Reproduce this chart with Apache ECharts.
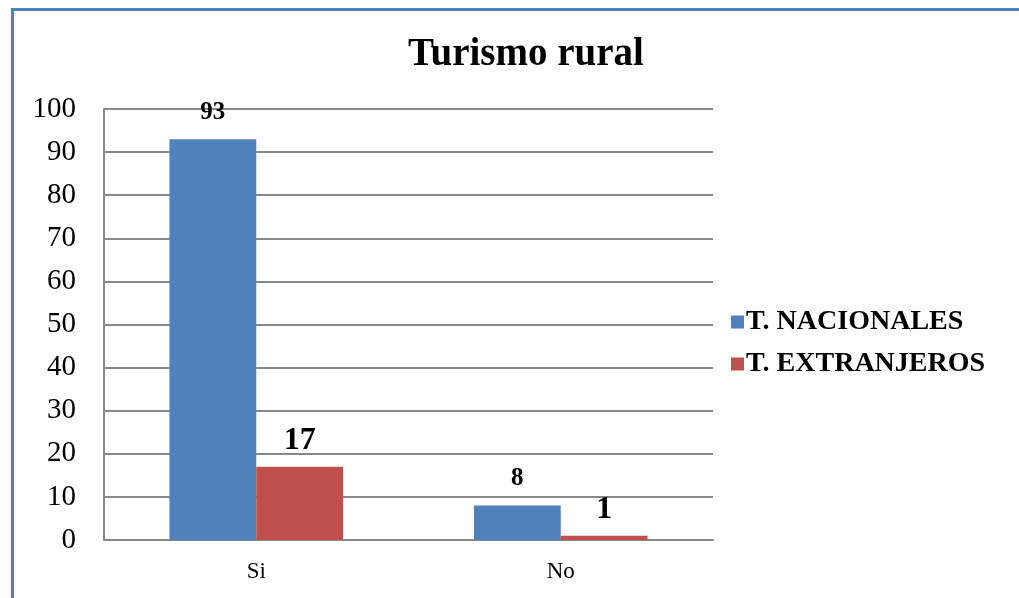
<!DOCTYPE html>
<html>
<head>
<meta charset="utf-8">
<script src="https://cdn.jsdelivr.net/npm/echarts@6/dist/echarts.min.js"></script>
<style>
  html, body { margin: 0; padding: 0; background: #fff; }
  #frame { position: absolute; left: 11px; top: 8px; width: 1008px; height: 590px;
    border-left: 3px solid #4F81BD; border-top: 3px solid #4F81BD; box-sizing: border-box; }
  #chart { position: absolute; left: 0; top: 0; width: 1019px; height: 598px; }
</style>
</head>
<body>
<div id="frame"></div>
<div id="chart"></div>
<script>
  const categories = ['Si', 'No']
  const nacionales = [93, 8]
  const extranjeros = [17, 1]
  const seriesNames = ['T. NACIONALES', 'T. EXTRANJEROS']

  const chart = echarts.init(document.getElementById('chart'))
  const serif = '"Liberation Serif", "Times New Roman", serif'
  chart.setOption({
    animation: false,
    textStyle: { fontFamily: serif, color: '#000' },
    title: {
      text: 'Turismo rural',
      left: 521,
      top: 30,
      textAlign: 'center',
      textStyle: { fontFamily: serif, fontSize: 39, fontWeight: 'bold', color: '#000' }
    },
    legend: {
      orient: 'vertical',
      left: 726,
      top: 303,
      itemWidth: 13,
      itemHeight: 13,
      itemGap: 14,
      icon: 'rect',
      textStyle: { fontFamily: serif, fontSize: 28, fontWeight: 'bold', color: '#000', padding: [0, 0, 0, -3] },
      data: seriesNames
    },
    grid: { left: 104, right: 306, top: 109, bottom: 58 },
    xAxis: {
      type: 'category',
      data: categories,
      axisLine: { lineStyle: { color: '#888', width: 2 } },
      axisTick: { show: false },
      axisLabel: { fontFamily: serif, fontSize: 23, color: '#000', margin: 20 }
    },
    yAxis: {
      type: 'value',
      min: 0,
      max: 100,
      interval: 10,
      axisLine: { show: true, lineStyle: { color: '#888', width: 2 } },
      axisTick: { show: false },
      axisLabel: { fontFamily: serif, fontSize: 29, color: '#000', margin: 28 },
      splitLine: { lineStyle: { color: '#888', width: 2 } }
    },
    series: [
      {
        name: seriesNames[0],
        type: 'bar',
        data: nacionales,
        barGap: '0%',
        barCategoryGap: '43%',
        itemStyle: { color: '#4F81BD' },
        label: { show: true, position: 'top', distance: 14, fontFamily: serif, fontSize: 25, fontWeight: 'bold', color: '#000' }
      },
      {
        name: seriesNames[1],
        type: 'bar',
        data: extranjeros,
        itemStyle: { color: '#C0504D' },
        label: { show: true, position: 'top', distance: 10, fontFamily: serif, fontSize: 32, fontWeight: 'bold', color: '#000' }
      }
    ]
  })
</script>
</body>
</html>
